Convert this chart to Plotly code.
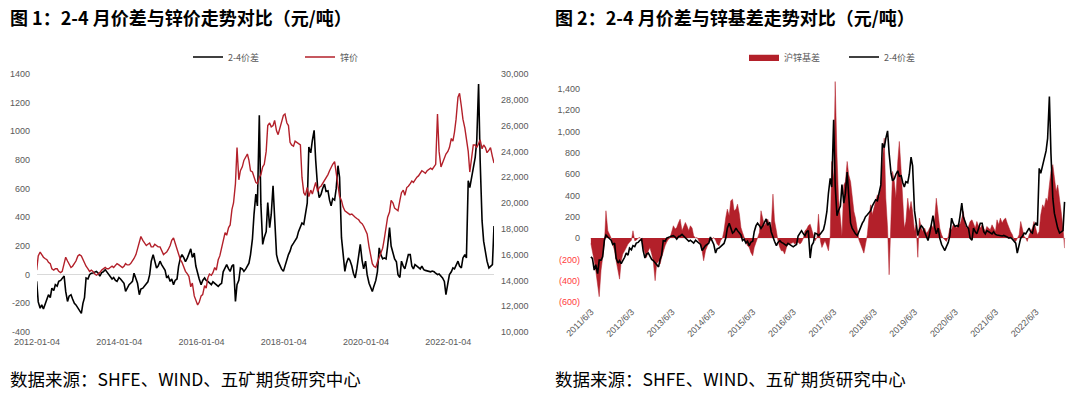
import pandas as pd
import plotly.graph_objects as go

# semi-monthly observation dates (1st and 15th of each month)
dates = pd.date_range("2011-06-01", "2023-02-15", freq="SMS")

# 2-4 month spread (yuan/ton), one row per year
spread = [
    -176, -190, -300, -250, -333, -207, -207, -176, -19, 28, 10, -3, -20, -60,
    -47, -190, -234, -211, -240, -211, -180, -140, -160, -94, -110, -70, -80, -47, -40, -23, -10, -117, -187, -150, -140, -170, -200, -211,
    -230, -250, -270, -200, -160, -23, -30, 0, 10, 12, 20, 23, 10, -10, 15, 20, 35, 20, 0, -20, -30, -20, -40, -47,
    -20, -30, -47, -60, -117, -90, -70, -60, -47, 10, -30, -60, -140, -100, -94, -80, -70, -50, 0, 94, 140, 100, 47, 60,
    94, 70, 47, 30, -23, -10, -47, -30, -70, -40, -30, 60, 117, 140, 117, 90, 117, 152, 180, 120, 150, 60, 0, -30,
    -70, -40, -23, -40, -47, -60, -70, -50, -60, -70, -82, -70, -60, 20, 47, 70, 40, 23, 60, 70, -187, -70, -40, 47,
    40, 23, 40, 60, 80, 140, 250, 421, 562, 480, 1112, 492, 211, 260, 300, 503, 328, 420, 620, 400, 140, 94, 60, 40,
    23, 60, 110, 140, 164, 200, 220, 240, 258, 300, 330, 360, 351, 420, 500, 890, 850, 936, 1007, 796, 609, 538, 560, 600,
    632, 580, 585, 520, 480, 530, 520, 600, 760, 679, 258, 150, 23, 80, 117, 100, 60, 10, -23, 40, 120, 211, 100, 40,
    94, 0, -60, -94, -117, -80, -40, 20, 187, 140, 110, 117, 110, 200, 328, 200, 140, 110, 90, 0, -20, 94, 60, 40,
    94, 140, 140, 60, 40, 70, 60, 50, 40, 60, 35, 30, 25, 20, 20, 25, 20, 10, 0, 5, -10, -23, -47, -140,
    -60, 0, 20, 47, 40, 70, 94, 60, 47, 117, 140, 117, 655, 608, 679, 749, 819, 936, 1330, 796, 375, 234, 150, 94,
    47, 60, 70, 340,
]

# SHFE zinc price (yuan/ton), from 2012-01
zinc = [
    14800, 15900, 16200, 16000, 15800, 15700, 15600, 15400, 15300, 14900, 14800, 14900, 14900, 14700, 14600, 14700, 15200, 15800, 15500, 15300, 15000, 15100, 15300, 15500,
    15900, 16000, 15900, 15600, 15300, 15100, 14900, 14700, 14800, 14700, 14500, 14400, 14500, 14600, 14800, 14900, 15000, 14900, 14900, 15000, 15100, 15000, 15200, 15300,
    15200, 15100, 15000, 15100, 15300, 15200, 15200, 15300, 15500, 15700, 16000, 16400, 17000, 17400, 17100, 16900, 16700, 16800, 16900, 16600, 16600, 16800, 16700, 16600,
    16600, 16300, 16000, 16100, 16200, 16400, 16700, 17100, 17300, 16900, 16400, 16000, 15600, 15400, 15000, 14700, 14500, 14300, 13500, 13800, 12800, 12400, 12100, 12300,
    12800, 12900, 13600, 13400, 14200, 14500, 14400, 14600, 15000, 14800, 15600, 15900, 16600, 17000, 17700, 17500, 18100, 18300, 19500, 20000, 21500, 24300, 21800, 22500,
    22800, 23300, 23600, 23800, 23300, 22500, 22400, 22000, 21600, 21500, 22000, 22200, 22800, 23000, 24000, 26000, 26200, 25900, 26000, 26400, 25600, 25300, 25800, 26100,
    26800, 26900, 26200, 26000, 24700, 24500, 24400, 24800, 24700, 24600, 24500, 22000, 20800, 20600, 21200, 20500, 21000, 20700, 21300, 21600, 20900, 21200, 21300, 21500,
    21800, 22000, 22200, 22500, 22800, 23000, 23200, 22200, 21200, 20500, 20200, 19700, 19400, 19300, 19200, 19100, 19150, 19000, 18900, 18800, 18700, 18500, 18400, 18200,
    17900, 17600, 16600, 16000, 15300, 15100, 15000, 15400, 15800, 16100, 16500, 17200, 18000, 18900, 19300, 20200, 20000, 19600, 19500, 19400, 20200, 20800, 21000, 20600,
    21200, 21300, 21500, 21700, 21600, 21800, 22000, 22100, 22300, 22500, 22400, 22300, 22500, 22600, 22700, 22600, 22800, 23000, 26900, 24000, 22800, 23100, 23500, 23800,
    24000, 24300, 25000, 24800, 25500, 26500, 28200, 28500, 27500, 26500, 25800, 24800, 24000, 22400, 23800, 24500, 24500, 24300, 24600, 24900, 24200, 24500, 24300, 23900,
    24100, 24300, 23600, 23100,
]

# SHFE zinc basis (yuan/ton)
basis = [
    -50, -119, -213, -307, -432, -550, -300, -182, -56, 257, 69, 38, 0, -56,
    -119, -213, -307, -385, -213, -150, -119, -88, -56, -40, -19, 69, -25, -19, 0, 5, -10, -88, -150, -182, -119, -88, -150, -213,
    -400, -244, -213, -244, -182, -119, -72, -40, -10, 0, 69, 116, 85, 100, 147, 178, 69, 100, 147, 116, 69, 116, 94, 22,
    0, 5, -25, -56, -119, -213, -119, -72, -40, -25, -10, 5, -19, -56, -72, -25, 0, 69, 194, 272, 210, 350, 366, 257,
    272, 319, 225, 100, 53, 0, -40, -72, -88, -134, -166, -88, -40, 0, 53, 257, 194, 116, 147, 178, 116, 100, 413, 163,
    69, -25, -88, -119, -119, -150, -88, -56, -56, -50, -40, -56, -50, -40, -56, -40, 0, 69, 85, 116, 131, 85, 38, -25,
    5, 225, -25, -88, -56, -25, -72, -119, 22, 720, 560, 1470, 780, 375, 188, 20, 500, 530, 720, 595, 530, 375, 250, 188,
    63, -16, -63, -94, -141, -63, 31, 188, 313, 219, 282, 344, 407, 375, 500, 720, 939, 375, 94, -344, 219, 626, 530, 375,
    720, 908, 626, 313, 94, 156, 375, 250, 344, 250, 63, 125, -180, 188, 94, 63, 94, 47, 63, 94, 125, 94, 188, 375,
    188, 94, 31, 0, -16, -31, 16, 94, 78, 125, 110, 94, 141, 125, 188, 250, 125, 94, 110, 156, 172, 125, 94, 156,
    110, 94, 125, 94, 63, 110, 94, 78, 125, 94, 63, 172, 125, 188, 141, 172, 188, 141, 94, 63, 31, -16, -31, 0,
    31, 156, 63, 16, 0, -31, 31, 63, 94, 156, 94, 31, 63, 219, 313, 282, 375, 344, 500, 626, 690, 563, 438, 500,
    375, 250, 94, -94,
]

left_x_ticks = ["2012-01-04", "2014-01-04", "2016-01-04", "2018-01-04", "2020-01-04", "2022-01-04"]
left_y_ticks = [-400, -200, 0, 200, 400, 600, 800, 1000, 1200, 1400]
zinc_ticks = [10000, 12000, 14000, 16000, 18000, 20000, 22000, 24000, 26000, 28000, 30000]
right_x_ticks = ["2011-06-03", "2012-06-03", "2013-06-03", "2014-06-03", "2015-06-03", "2016-06-03",
                 "2017-06-03", "2018-06-03", "2019-06-03", "2020-06-03", "2021-06-03", "2022-06-03"]
right_x_labels = ["2011/6/3", "2012/6/3", "2013/6/3", "2014/6/3", "2015/6/3", "2016/6/3",
                  "2017/6/3", "2018/6/3", "2019/6/3", "2020/6/3", "2021/6/3", "2022/6/3"]
right_y_ticks = [-600, -400, -200, 0, 200, 400, 600, 800, 1000, 1200, 1400]

assert len(spread) == len(dates), len(spread)
assert len(basis) == len(dates), len(basis)
assert len(zinc) == len(dates) - 14, len(zinc)

RED = "#B3202A"
GREY = "#595959"
NUMFONT = "Liberation Sans Narrow, Liberation Sans, Arial"
CJK = "Noto Sans CJK SC"

W, H = 1080, 396
def px(x):
    return x / W
def py(y):
    return (H - y) / H

fig = go.Figure()
fig.add_trace(go.Scatter(x=dates[14:], y=spread[14:], name="2-4价差", mode="lines",
                         line=dict(color="#000000", width=1.6), xaxis="x", yaxis="y", legend="legend"))
fig.add_trace(go.Scatter(x=dates[14:], y=zinc, name="锌价", mode="lines",
                         line=dict(color=RED, width=1.4), xaxis="x", yaxis="y2", legend="legend"))
fig.add_trace(go.Scatter(x=dates, y=basis, name="沪锌基差", mode="lines", fill="tozeroy",
                         fillcolor=RED, line=dict(color=RED, width=0.5),
                         xaxis="x3", yaxis="y3", legend="legend2"))
fig.add_trace(go.Scatter(x=dates, y=spread, name="2-4价差", mode="lines",
                         line=dict(color="#000000", width=1.6), xaxis="x3", yaxis="y3", legend="legend2"))

tickfont = dict(family=NUMFONT, size=9, color=GREY)

def fmt_left(v):
    return str(v)

def fmt_right(v):
    if v < 0:
        return "<span style='color:#FF3B3B'>(%d)</span>" % (-v)
    return "{:,}".format(v)

common = dict(showgrid=False, showline=False, ticks="", tickfont=tickfont, automargin=False)

fig.update_layout(
    width=W, height=H, margin=dict(l=0, r=0, t=0, b=0, autoexpand=False),
    paper_bgcolor="white", plot_bgcolor="white",
    showlegend=True,
    xaxis=dict(domain=[px(37), px(494)], type="date", range=["2012-01-04", "2023-02-15"],
               tickvals=left_x_ticks, ticktext=left_x_ticks, zeroline=False,
               anchor="y", ticklabelstandoff=3, **common),
    yaxis=dict(domain=[py(332), py(74)], range=[-400, 1400], tickvals=left_y_ticks,
               ticktext=[fmt_left(v) for v in left_y_ticks],
               zeroline=True, zerolinecolor="#D9D9D9", zerolinewidth=1,
               anchor="x", ticklabelstandoff=6, **common),
    yaxis2=dict(overlaying="y", side="right", anchor="x", range=[10000, 30000], tickvals=zinc_ticks,
                ticktext=["{:,}".format(v) for v in zinc_ticks], zeroline=False,
                ticklabelstandoff=6, **common),
    xaxis3=dict(domain=[px(590), px(1066)], type="date", range=["2011-05-24", "2023-02-28"],
                tickvals=right_x_ticks, ticktext=right_x_labels, tickangle=-45,
                zeroline=False, anchor="y3", ticklabelstandoff=2, **common),
    yaxis3=dict(domain=[py(302), py(78.4)], range=[-600, 1500], tickvals=right_y_ticks,
                ticktext=[fmt_right(v) for v in right_y_ticks],
                zeroline=True, zerolinecolor="#EEEEEE", zerolinewidth=1,
                anchor="x3", ticklabelstandoff=9, **common),
    legend=dict(orientation="h", x=px(188), y=py(57), xanchor="left", yanchor="middle",
                font=dict(family=CJK, size=9, color=GREY), itemwidth=30,
                entrywidth=67, entrywidthmode="pixels", bgcolor="rgba(0,0,0,0)"),
    legend2=dict(orientation="h", x=px(744), y=py(57), xanchor="left", yanchor="middle",
                 font=dict(family=CJK, size=9, color=GREY), itemwidth=30,
                 entrywidth=55, entrywidthmode="pixels", bgcolor="rgba(0,0,0,0)"),
)

titles = [
    ("<b>图 1：2-4 月价差与锌价走势对比（元/吨）</b>", 8),
    ("<b>图 2：2-4 月价差与锌基差走势对比（元/吨）</b>", 553),
]
for text, x0 in titles:
    fig.add_annotation(text=text, xref="paper", yref="paper", x=px(x0), y=py(17),
                       xanchor="left", yanchor="middle", showarrow=False,
                       font=dict(family=CJK, size=18, color="#000000"))
for x0 in (8, 553):
    fig.add_annotation(text="数据来源：SHFE、WIND、五矿期货研究中心", xref="paper", yref="paper",
                       x=px(x0), y=py(378), xanchor="left", yanchor="middle", showarrow=False,
                       font=dict(family=CJK, size=17.5, color="#000000"))

# the page's default body margin would push the fixed-size figure off its intended place
fig.write_html("out.html", config={"displayModeBar": False},
               post_script="document.body.style.margin='0';")
